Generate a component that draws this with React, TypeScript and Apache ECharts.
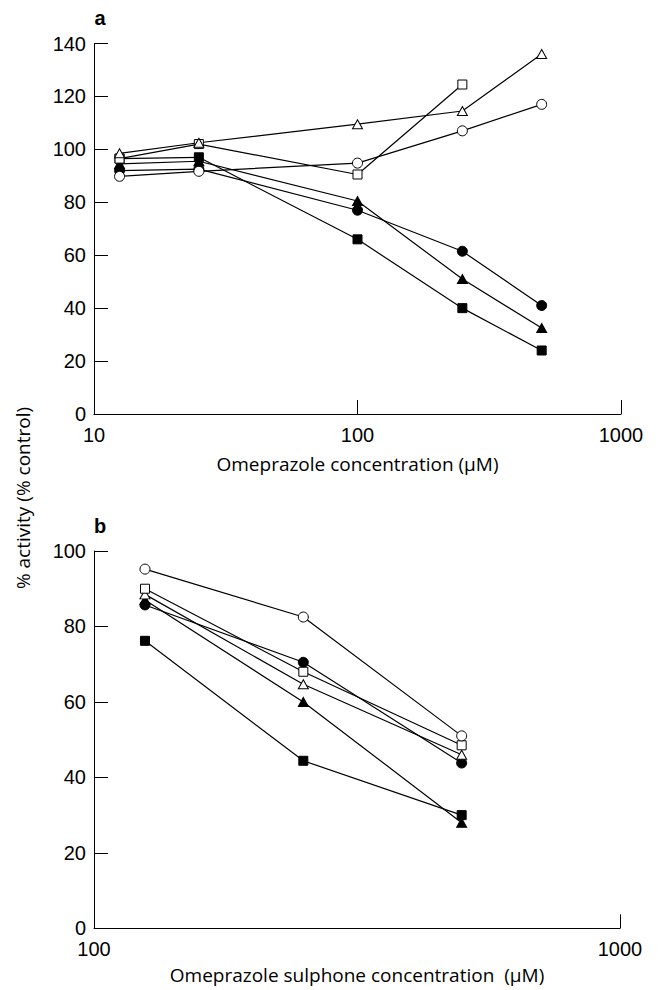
import React, { useEffect, useRef } from "react";
import * as echarts from "echarts";

// Panel a: omeprazole
const concA = [12.5, 25, 100, 250, 500];
const aOpenTriangle = [98.5, 102.5, 109.5, 114.5, 136];
const aOpenSquare = [96.5, 102, 90.5, 124.5];
const aOpenCircle = [89.8, 91.7, 94.8, 107, 117];
const aFilledSquare = [96.5, 97, 66, 40, 24];
const aFilledTriangle = [94.5, 95.5, 80.5, 51, 32.5];
const aFilledCircle = [92, 92.5, 77, 61.5, 41];

// Panel b: omeprazole sulphone
const concB = [125, 250, 500];
const bOpenCircle = [95.2, 82.5, 51];
const bOpenSquare = [90, 68, 48.5];
const bOpenTriangle = [88.5, 64.7, 46];
const bFilledCircle = [85.7, 70.5, 43.8];
const bFilledTriangle = [87, 60, 28];
const bFilledSquare = [76.2, 44.4, 30];

const xNameA = "Omeprazole concentration (μM)";
const xNameB = "Omeprazole sulphone concentration  (μM)";
const yName = "% activity (% control)";

const TICKFONT = "'Liberation Sans', Arial, sans-serif";
const NAMEFONT = "'Open Sans', 'Liberation Sans', sans-serif";

function pairs(xs: number[], ys: number[]) {
  return ys.map((y, i) => [xs[i], y]);
}

function mk(name: string, xs: number[], ys: number[], symbol: string, filled: boolean, idx: number) {
  return {
    name,
    type: "line",
    xAxisIndex: idx,
    yAxisIndex: idx,
    data: pairs(xs, ys),
    symbol,
    symbolSize: symbol === "triangle" ? [10, 9] : symbol === "rect" ? 9 : 10,
    showAllSymbol: true,
    lineStyle: { color: "#000", width: 1.2 },
    itemStyle: { color: filled ? "#000" : "#fff", borderColor: "#000", borderWidth: 1 },
    emphasis: { disabled: true },
    z: filled ? 3 : 4,
  };
}

export default function App() {
  const ref = useRef<HTMLDivElement>(null);
  useEffect(() => {
    if (!ref.current) return;
    const chart = echarts.init(ref.current, null, { renderer: "svg" });
    const axisCommon = {
      axisLine: { show: true, lineStyle: { color: "#000", width: 1 } },
      axisTick: { show: true, inside: true, length: 14, lineStyle: { color: "#000", width: 1 } },
      splitLine: { show: false },
      minorTick: { show: false },
    };
    const xLabel = {
      color: "#000",
      fontSize: 20,
      fontFamily: TICKFONT,
      margin: 11,
      formatter: (v: number) => String(Math.round(v)),
    };
    const yLabel = { color: "#000", fontSize: 20, fontFamily: TICKFONT, margin: 8 };
    const nameStyle = { color: "#000", fontSize: 19, fontFamily: NAMEFONT };
    chart.setOption({
      animation: false,
      backgroundColor: "#fff",
      grid: [
        { left: 94, top: 43.5, width: 527, height: 370.5 },
        { left: 94, top: 551, width: 526, height: 377.3 },
      ],
      xAxis: [
        {
          ...axisCommon,
          gridIndex: 0,
          type: "log",
          logBase: 10,
          min: 10,
          max: 1000,
          axisLabel: xLabel,
          name: xNameA,
          nameLocation: "middle",
          nameGap: 40,
          nameTextStyle: nameStyle,
        },
        {
          ...axisCommon,
          gridIndex: 1,
          type: "log",
          logBase: 10,
          min: 100,
          max: 1000,
          axisLabel: xLabel,
          name: xNameB,
          nameLocation: "middle",
          nameGap: 37,
          nameTextStyle: nameStyle,
        },
      ],
      yAxis: [
        {
          ...axisCommon,
          gridIndex: 0,
          type: "value",
          min: 0,
          max: 140,
          interval: 20,
          axisLabel: yLabel,
        },
        {
          ...axisCommon,
          gridIndex: 1,
          type: "value",
          min: 0,
          max: 100,
          interval: 20,
          axisLabel: yLabel,
        },
      ],
      series: [
        mk("a filled square", concA, aFilledSquare, "rect", true, 0),
        mk("a filled triangle", concA, aFilledTriangle, "triangle", true, 0),
        mk("a filled circle", concA, aFilledCircle, "circle", true, 0),
        mk("a open circle", concA, aOpenCircle, "circle", false, 0),
        mk("a open square", concA, aOpenSquare, "rect", false, 0),
        mk("a open triangle", concA, aOpenTriangle, "triangle", false, 0),
        mk("b filled square", concB, bFilledSquare, "rect", true, 1),
        mk("b filled triangle", concB, bFilledTriangle, "triangle", true, 1),
        mk("b filled circle", concB, bFilledCircle, "circle", true, 1),
        mk("b open triangle", concB, bOpenTriangle, "triangle", false, 1),
        mk("b open square", concB, bOpenSquare, "rect", false, 1),
        mk("b open circle", concB, bOpenCircle, "circle", false, 1),
      ],
      graphic: [
        {
          type: "text",
          x: 100,
          y: 18,
          style: {
            text: "a", fontSize: 20, fontWeight: "bold", fontFamily: TICKFONT, fill: "#000",
            align: "center", verticalAlign: "middle",
          },
        },
        {
          type: "text",
          x: 100,
          y: 526,
          style: {
            text: "b", fontSize: 20, fontWeight: "bold", fontFamily: TICKFONT, fill: "#000",
            align: "center", verticalAlign: "middle",
          },
        },
        {
          type: "text",
          x: 23,
          y: 498,
          rotation: Math.PI / 2,
          style: {
            text: yName,
            fontSize: 19,
            fontFamily: NAMEFONT,
            fill: "#000",
            align: "center",
            verticalAlign: "middle",
          },
        },
      ],
    });
    return () => chart.dispose();
  }, []);
  return (
    <div
      ref={ref}
      style={{ position: "fixed", left: 0, top: 0, width: 658, height: 990, background: "#fff" }}
    />
  );
}
